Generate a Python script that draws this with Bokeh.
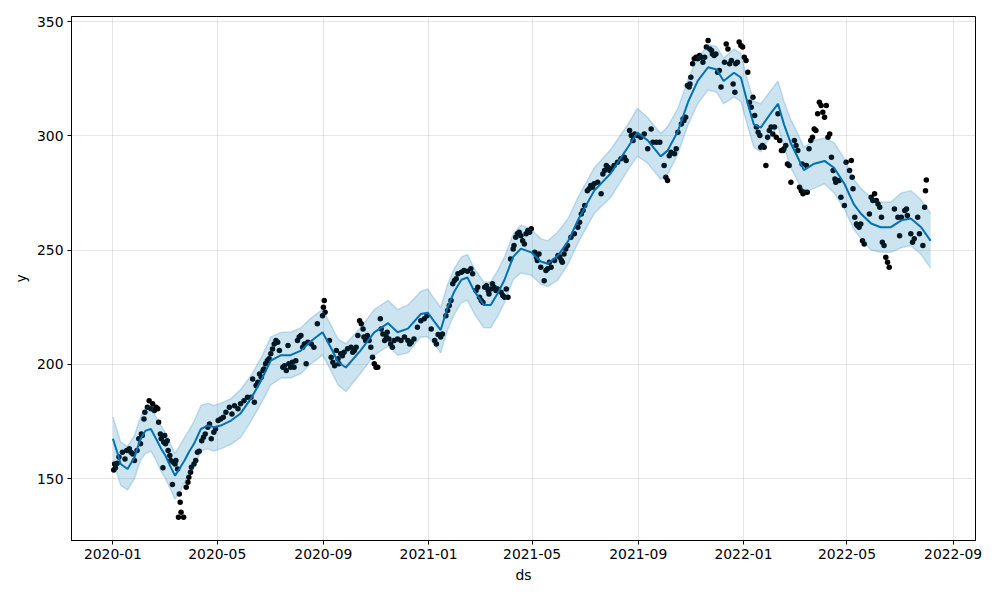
import numpy as np
import pandas as pd
from bokeh.plotting import figure
from bokeh.models import FixedTicker, DatetimeTickFormatter, Range1d
from bokeh.embed import file_html
from bokeh.resources import INLINE

START = pd.Timestamp("2020-01-01")

# Observed values (day offset from 2020-01-01, value)
obs_day = [
    1, 2, 3, 5, 7, 11, 14, 16, 19, 21, 23, 25, 28, 30, 32, 33, 34, 36, 37, 40,
    42, 44, 46, 48, 50, 52, 53, 55, 56, 58, 59, 60, 61, 63, 64, 66, 67, 69, 70, 72,
    73, 75, 77, 78, 76, 79, 82, 85, 87, 88, 90, 91, 94, 96, 98, 100, 103, 105, 107, 110,
    112, 114, 117, 119, 122, 125, 128, 131, 135, 138, 141, 145, 148, 152, 156,
    160, 162, 164, 166, 168, 170, 172, 174, 175, 177, 179, 181, 183, 185, 187, 189, 191, 193, 197, 199,
    201, 203, 204, 206, 208, 210, 212, 214, 216, 218, 220, 222, 224, 226, 230, 233, 237,
    243, 244, 245, 246, 251, 253, 255, 257, 259, 261, 262, 264, 266, 268, 272, 276, 278, 280, 282, 284,
    286, 288, 290, 291, 293, 295, 297, 299, 301, 303, 305, 307, 310, 311, 313, 315, 317, 318, 320, 322,
    324, 326, 330, 334, 338, 342, 344, 346, 349, 353, 357, 361, 364, 369, 373, 375, 377, 380, 382, 386,
    388, 390, 392, 394, 396, 398, 400, 404, 407, 411, 415,
    417, 421, 423, 425, 427, 429, 431, 433, 435, 436, 438, 440, 442, 444, 446, 450, 452, 454, 456, 458,
    461, 464, 465, 467, 469, 471, 473, 475, 477, 479, 481, 483, 485, 489, 491, 492, 494, 496, 500, 502,
    504, 506, 508, 512, 516, 518, 520, 521, 523, 525, 527, 531, 535, 539, 541,
    543, 545, 547, 550, 552, 554, 556, 558, 562, 566, 568, 570, 572, 574, 576, 578, 581, 585, 589, 593,
    595, 599, 601, 603, 605, 608, 612, 616, 620, 624, 626, 630, 634, 639, 641, 643, 645, 647, 651, 653,
    655, 659, 661, 662, 664, 666, 668,
    669, 670, 672, 674, 676, 678, 680, 682, 684, 686, 688, 690, 692, 694, 695, 697, 699, 701, 703, 705,
    709, 711, 713, 715, 717, 719, 721, 722, 724, 726, 728, 730, 732, 734, 736, 738, 740, 742, 744, 746,
    748, 750, 751, 753, 755, 757, 759, 761, 763, 765, 767, 769, 771, 773, 775, 777, 778, 780, 782, 784,
    786, 790, 792, 794, 796, 798, 800, 802, 804, 807, 809, 811, 813, 815, 817, 819, 821, 823, 825, 827,
    829, 831,
    799, 805, 833, 835, 837, 838, 840, 842, 844, 848, 850, 854, 856, 857, 858, 860, 862, 863, 865, 867,
    869, 871, 877, 879, 881, 883, 885, 887, 889, 891, 892, 894, 896, 898, 900, 906, 910, 912, 914, 918,
    920, 921, 925, 927, 929, 933, 935, 939, 941, 942, 943,
]
obs_y = [
    153.8, 156.4, 154.7, 156.7, 159.4, 161.5, 158.6, 162.3, 163.0, 161.5, 160.8, 157.9, 162.3, 167.4, 165.2, 169.5, 168.8, 176.1, 179.0, 181.2,
    184.1, 180.5, 182.7, 179.8, 181.2, 180.5, 174.7, 169.5, 167.4, 154.7, 165.9, 168.8, 165.2, 166.6, 162.3, 160.1, 157.9, 147.4, 157.1, 156.4,
    157.9, 154.2, 143.3, 139.6, 133.1, 135.3, 133.1, 146.2, 148.4, 150.6, 152.8, 155.0, 156.4, 157.9, 161.5, 162.0, 166.6, 168.1, 169.5, 172.5,
    173.9, 167.4, 170.3, 171.7, 175.4, 176.1, 176.8, 179.0, 181.2, 178.3, 181.9, 180.5, 182.7, 184.1, 185.6,
    185.6, 193.6, 183.4, 190.7, 192.1, 195.8, 194.3, 197.3, 198.0, 200.2, 201.6, 202.4, 204.6, 206.7, 208.9, 210.4, 209.6, 206.0, 198.7, 199.4,
    197.3, 208.2, 200.2, 198.7, 200.9, 198.7, 201.6, 210.4, 211.9, 212.6, 207.5, 208.9, 200.2, 209.7, 208.9, 207.5, 217.7,
    221.3, 225.0, 227.9, 222.8, 210.4, 203.1, 200.9, 199.4, 206.0, 202.4, 200.2, 204.6, 203.8, 205.3, 206.8, 207.5, 205.3, 206.0, 207.5, 212.6,
    219.1, 217.7, 215.5, 211.9, 210.4, 212.6, 210.4, 207.5, 203.1, 200.2, 198.7, 198.7, 219.9, 215.5, 213.3, 210.4, 211.9, 214.0, 211.1, 208.9,
    207.5, 210.4, 211.1, 210.4, 211.9, 210.4, 208.9, 209.7, 211.1, 216.2, 219.1, 219.9, 221.3, 215.5, 210.4, 208.9, 213.0, 211.9, 213.3, 221.3,
    223.5, 225.7, 227.9, 235.2, 236.7, 237.4, 239.6, 240.3, 241.0, 240.7, 241.8,
    239.6, 232.3, 233.7, 229.3, 227.9, 227.1, 233.7, 234.4, 232.3, 230.8, 233.0, 235.2, 233.7, 232.3, 233.0, 231.5, 230.1, 229.3, 233.0, 229.3,
    246.1, 250.5, 252.0, 255.6, 257.1, 257.8, 256.3, 254.1, 252.7, 257.1, 258.5, 257.8, 259.3, 249.0, 246.9, 245.4, 248.3, 242.5, 236.6, 241.1,
    241.8, 244.7, 242.5, 245.4, 247.6, 246.9, 245.4, 244.7, 248.3, 250.5, 252.0, 255.6, 257.1, 260.0, 262.2,
    265.8, 267.3, 269.5, 276.0, 276.8, 278.2, 277.5, 279.0, 279.7, 274.6, 283.3, 284.8, 287.0, 286.2, 284.8, 285.5, 287.0, 288.4, 289.9, 290.6,
    289.2, 302.3, 300.1, 297.9, 300.8, 300.1, 299.4, 300.8, 294.3, 303.0, 297.2, 297.2, 297.2, 287.0, 281.9, 280.4, 291.3, 292.8, 292.1, 294.3,
    301.6, 305.2, 307.4, 306.7, 308.1, 322.0, 321.3,
    322.7, 325.6, 331.5, 333.7, 334.4, 333.7, 335.1, 334.4, 332.2, 334.4, 338.8, 341.7, 338.0, 337.3, 335.8, 335.1, 335.8, 327.8, 328.6, 321.3,
    332.2, 340.2, 338.0, 331.5, 332.9, 322.7, 319.1, 331.5, 332.2, 341.0, 339.5, 338.8, 334.4, 332.9, 327.8, 314.7, 312.5, 316.9, 308.9, 303.8,
    301.6, 300.1, 295.0, 295.7, 295.0, 287.0, 299.4, 302.3, 303.8, 300.8, 303.8, 299.4, 309.6, 297.9, 293.6, 293.6, 294.3, 295.7, 287.7, 287.0,
    279.7, 297.9, 295.7, 293.6, 277.5, 276.0, 274.6, 275.3, 287.0, 294.3, 297.9, 299.4, 303.0, 302.3, 309.6, 314.7, 313.2, 310.3, 308.1, 313.2,
    299.4, 300.8,
    287.7, 275.3, 290.6, 284.8, 281.1, 279.7, 280.4, 280.4, 273.1, 269.5, 288.4, 284.8, 289.2, 281.9, 276.8, 264.4, 261.4, 260.7, 260.0, 261.4,
    254.1, 252.7, 265.8, 273.1, 271.7, 274.6, 271.7, 270.2, 268.7, 264.4, 253.4, 252.0, 246.9, 244.7, 242.5, 268.0, 264.4, 256.3, 264.4, 267.3,
    268.0, 265.1, 257.1, 253.4, 254.9, 264.4, 257.1, 252.0, 268.7, 276.0, 280.7,
]

# Forecast (day offset, yhat, lower, upper)
fc_day = [0, 5, 9, 17, 25, 32, 38, 44, 50, 56, 61, 67, 72, 77, 83, 88, 94, 102, 110, 117,
          125, 137, 148, 160, 172, 183, 195, 206, 218, 229, 243, 253, 261, 270, 287, 303, 319, 330, 342, 357,
          365, 372, 380, 388, 396, 404, 411, 419, 430, 438, 446, 454, 464, 473, 485, 496, 504, 516, 528, 539,
          558, 577, 597, 608, 620, 635, 643, 655, 667, 678, 690, 700, 708, 720, 728, 736, 743, 751, 763, 771,
          778, 786, 794, 801, 813, 825, 836, 848, 859, 867, 879, 890, 902, 914, 925, 937, 948]
yhat = [167.4, 161.5, 156.4, 154.2, 159.3, 167.4, 171.0, 171.7, 167.4, 163.0, 160.0, 155.0, 151.3, 154.2, 157.9, 161.5, 165.2, 171.7, 173.2, 172.5,
        173.2, 175.4, 178.5, 185.0, 193.0, 201.6, 204.0, 204.0, 206.0, 210.0, 214.0, 207.0, 201.0, 198.6, 206.0, 214.0, 218.0, 214.0, 215.6, 222.0,
        222.6, 219.0, 215.0, 225.0, 232.0, 237.0, 238.0, 232.0, 226.0, 226.0, 231.0, 237.0, 247.0, 250.6, 249.0, 245.0, 244.0, 247.6, 254.0, 263.0,
        276.0, 283.5, 295.0, 301.4, 298.0, 291.0, 293.5, 302.0, 315.0, 324.0, 330.0, 329.0, 324.0, 327.6, 325.5, 314.0, 305.0, 303.6, 310.0, 314.0,
        305.0, 296.6, 290.5, 285.0, 287.8, 289.0, 286.0, 279.0, 270.0, 266.0, 261.6, 260.0, 260.0, 263.0, 263.8, 260.0, 254.0]
yhat_lower = [158, 152, 147, 145, 150, 158, 161, 162, 158, 153, 150, 145, 141, 144, 148, 152, 155, 162, 163, 162,
              163, 165, 168, 175, 183, 191, 194, 194, 196, 200, 204, 197, 191, 188, 196, 204, 208, 204, 205, 212,
              212, 209, 205, 215, 222, 227, 228, 222, 216, 216, 221, 227, 237, 240, 239, 235, 234, 237, 244, 253,
              266, 273, 285, 291, 288, 281, 283, 292, 305, 314, 320, 319, 314, 317, 315, 304, 295, 293, 300, 304,
              295, 286, 280, 275, 277, 279, 275, 268, 259, 255, 250, 249, 249, 251, 252, 248, 242]
yhat_upper = [177, 171, 166, 164, 169, 177, 181, 182, 177, 173, 170, 165, 161, 164, 168, 171, 175, 182, 183, 182,
              183, 185, 189, 195, 203, 212, 214, 214, 216, 220, 224, 217, 211, 209, 216, 224, 228, 224, 226, 232,
              233, 229, 225, 235, 242, 247, 248, 242, 236, 236, 241, 247, 257, 261, 259, 255, 254, 258, 264, 273,
              286, 294, 305, 312, 308, 301, 304, 312, 325, 334, 340, 339, 334, 338, 336, 324, 315, 314, 320, 324,
              315, 307, 301, 295, 298, 299, 297, 290, 281, 277, 273, 271, 271, 275, 276, 272, 266]

x_ticks = ["2020-01-01", "2020-05-01", "2020-09-01", "2021-01-01", "2021-05-01",
           "2021-09-01", "2022-01-01", "2022-05-01", "2022-09-01"]
y_ticks = [150, 200, 250, 300, 350]


def to_dates(days):
    return START + pd.to_timedelta(np.array(days), unit="D")


obs_x = to_dates(obs_day)
fc_x = to_dates(fc_day)

FONT = "DejaVu Sans"
BLUE = "#0072B2"

p = figure(width=1000, height=600, x_axis_type="datetime",
           output_backend="svg", toolbar_location=None,
           x_range=Range1d(pd.Timestamp("2019-11-14").to_pydatetime(),
                           pd.Timestamp("2022-09-27").to_pydatetime()),
           y_range=Range1d(122.9, 352.2),
           min_border_left=71, min_border_right=25,
           min_border_top=16, min_border_bottom=60)

p.scatter(obs_x, obs_y, size=5.5, color="black", line_color=None)
p.line(fc_x, yhat, line_color=BLUE, line_width=2)
p.varea(x=fc_x, y1=yhat_lower, y2=yhat_upper, fill_color=BLUE, fill_alpha=0.2)
p.line(fc_x, yhat_lower, line_color=BLUE, line_alpha=0.2, line_width=1.5)
p.line(fc_x, yhat_upper, line_color=BLUE, line_alpha=0.2, line_width=1.5)

tick_ms = [pd.Timestamp(t).value / 1e6 for t in x_ticks]
p.xaxis.ticker = FixedTicker(ticks=tick_ms)
fmt = "%Y-%m"
p.xaxis.formatter = DatetimeTickFormatter(
    milliseconds=fmt, seconds=fmt, minsec=fmt, minutes=fmt, hourmin=fmt,
    hours=fmt, days=fmt, months=fmt, years=fmt)
p.yaxis.ticker = FixedTicker(ticks=y_ticks)

p.xaxis.axis_label = "ds"
p.yaxis.axis_label = "y"
for ax in (p.xaxis, p.yaxis):
    ax.axis_label_text_font = FONT
    ax.axis_label_text_font_size = "13.9px"
    ax.axis_label_text_font_style = "normal"
    ax.axis_label_text_color = "black"
    ax.axis_label_standoff = 5
    ax.major_label_text_font = FONT
    ax.major_label_text_font_size = "13.9px"
    ax.major_label_text_color = "black"
    ax.major_label_standoff = 4
    ax.major_tick_out = 4
    ax.major_tick_in = 0
    ax.minor_tick_out = 0
    ax.minor_tick_in = 0
    ax.axis_line_color = "black"
    ax.major_tick_line_color = "black"

p.xgrid.grid_line_color = "gray"
p.xgrid.grid_line_alpha = 0.2
p.ygrid.grid_line_color = "gray"
p.ygrid.grid_line_alpha = 0.2
p.outline_line_color = "black"
p.outline_line_width = 1
p.outline_line_alpha = 1
p.background_fill_color = "white"
p.border_fill_color = "white"

open("out.html", "w").write(file_html(p, INLINE))
